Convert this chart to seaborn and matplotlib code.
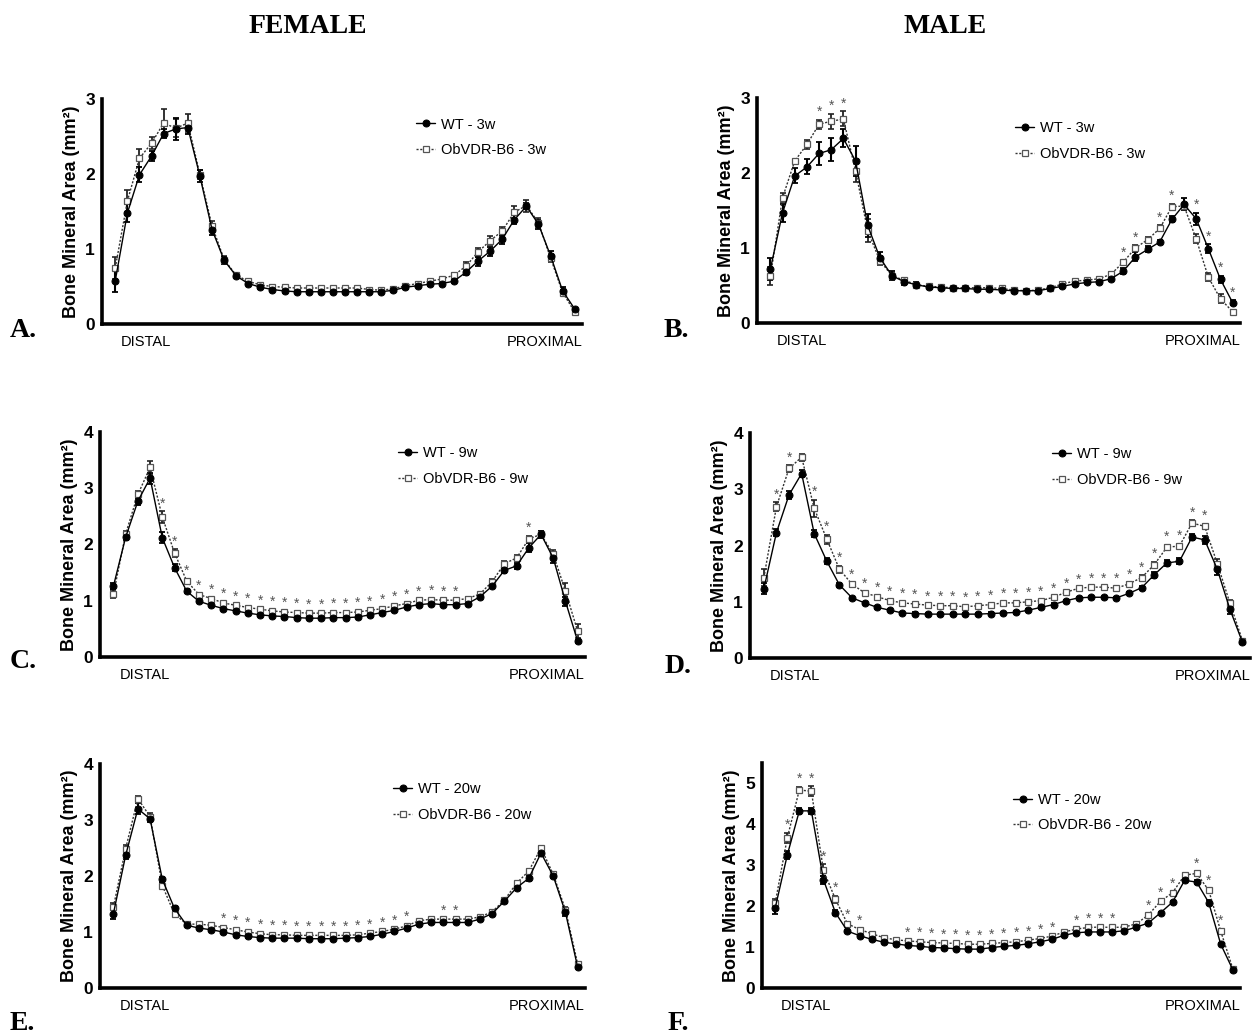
import numpy as np
import pandas as pd
import matplotlib
matplotlib.use("Agg")
import matplotlib.pyplot as plt
import seaborn as sns

# ---------------- data ----------------
# Panel A: female 3w
A_wt = [0.58, 1.48, 1.99, 2.24, 2.54, 2.60, 2.62, 1.97, 1.26, 0.85, 0.64, 0.54, 0.49, 0.46, 0.44, 0.43, 0.43, 0.43, 0.43, 0.43,
        0.43, 0.43, 0.43, 0.45, 0.49, 0.51, 0.53, 0.54, 0.57, 0.69, 0.84, 0.97, 1.13, 1.39, 1.57, 1.33, 0.91, 0.44, 0.20]
A_wt_err = [0.15, 0.12, 0.10, 0.06, 0.06, 0.15, 0.08, 0.08, 0.07, 0.05, 0.03, 0.02, 0.02, 0.02, 0.02, 0.02, 0.02, 0.02, 0.02, 0.02,
            0.02, 0.02, 0.02, 0.02, 0.02, 0.02, 0.02, 0.02, 0.02, 0.04, 0.06, 0.06, 0.06, 0.06, 0.04, 0.06, 0.07, 0.05, 0.02]
A_ob = [0.75, 1.64, 2.21, 2.41, 2.68, 2.61, 2.68, 1.99, 1.31, 0.86, 0.65, 0.57, 0.52, 0.50, 0.49, 0.48, 0.48, 0.48, 0.48, 0.48,
        0.48, 0.46, 0.45, 0.47, 0.51, 0.54, 0.57, 0.60, 0.65, 0.77, 0.96, 1.11, 1.24, 1.49, 1.58, 1.35, 0.88, 0.42, 0.16]
A_ob_err = [0.15, 0.15, 0.12, 0.08, 0.18, 0.12, 0.12, 0.06, 0.06, 0.05, 0.03, 0.02, 0.02, 0.02, 0.02, 0.02, 0.02, 0.02, 0.02, 0.02,
            0.02, 0.02, 0.02, 0.02, 0.02, 0.02, 0.02, 0.02, 0.03, 0.06, 0.06, 0.06, 0.06, 0.08, 0.08, 0.06, 0.05, 0.03, 0.02]
A_star = []

# Panel B: male 3w
B_wt = [0.72, 1.47, 1.96, 2.08, 2.26, 2.31, 2.46, 2.16, 1.30, 0.87, 0.63, 0.55, 0.51, 0.48, 0.47, 0.46, 0.46, 0.45, 0.45, 0.44,
        0.43, 0.43, 0.43, 0.46, 0.49, 0.52, 0.54, 0.55, 0.59, 0.69, 0.88, 0.98, 1.08, 1.38, 1.58, 1.39, 0.99, 0.58, 0.27]
B_wt_err = [0.15, 0.12, 0.10, 0.10, 0.15, 0.15, 0.12, 0.20, 0.15, 0.08, 0.06, 0.04, 0.03, 0.02, 0.02, 0.02, 0.02, 0.02, 0.02, 0.02,
            0.02, 0.02, 0.02, 0.02, 0.02, 0.02, 0.02, 0.02, 0.03, 0.04, 0.06, 0.04, 0.03, 0.04, 0.08, 0.08, 0.06, 0.05, 0.03]
B_ob = [0.62, 1.67, 2.16, 2.38, 2.65, 2.69, 2.72, 2.03, 1.23, 0.83, 0.63, 0.57, 0.51, 0.49, 0.48, 0.47, 0.47, 0.47, 0.47, 0.46,
        0.44, 0.43, 0.44, 0.47, 0.52, 0.56, 0.57, 0.59, 0.65, 0.81, 1.00, 1.11, 1.26, 1.55, 1.56, 1.12, 0.61, 0.32, 0.15]
B_ob_err = [0.12, 0.06, 0.03, 0.06, 0.06, 0.10, 0.10, 0.15, 0.15, 0.06, 0.04, 0.03, 0.02, 0.02, 0.02, 0.02, 0.02, 0.02, 0.02, 0.02,
            0.02, 0.02, 0.02, 0.02, 0.02, 0.02, 0.02, 0.02, 0.03, 0.03, 0.04, 0.04, 0.04, 0.04, 0.03, 0.06, 0.05, 0.06, 0.01]
B_star = [4, 5, 6, 29, 30, 32, 33, 35, 36, 37, 38]

# Panel C: female 9w
C_wt = [1.26, 2.13, 2.77, 3.18, 2.12, 1.59, 1.17, 0.99, 0.92, 0.86, 0.82, 0.78, 0.75, 0.73, 0.72, 0.70, 0.69, 0.69, 0.70, 0.70,
        0.71, 0.75, 0.79, 0.83, 0.89, 0.93, 0.95, 0.93, 0.93, 0.95, 1.07, 1.26, 1.54, 1.62, 1.94, 2.18, 1.76, 0.99, 0.28]
C_wt_err = [0.05, 0.05, 0.06, 0.10, 0.10, 0.06, 0.04, 0.02, 0.02, 0.02, 0.02, 0.02, 0.02, 0.02, 0.02, 0.02, 0.02, 0.02, 0.02, 0.02,
            0.02, 0.02, 0.02, 0.02, 0.02, 0.02, 0.02, 0.02, 0.02, 0.02, 0.02, 0.04, 0.05, 0.06, 0.08, 0.06, 0.08, 0.08, 0.03]
C_ob = [1.12, 2.19, 2.89, 3.37, 2.49, 1.85, 1.35, 1.11, 1.04, 0.96, 0.92, 0.88, 0.85, 0.82, 0.80, 0.79, 0.78, 0.78, 0.79, 0.79,
        0.80, 0.83, 0.86, 0.91, 0.95, 1.01, 1.02, 1.01, 1.01, 1.04, 1.12, 1.34, 1.66, 1.76, 2.10, 2.18, 1.83, 1.17, 0.46]
C_ob_err = [0.07, 0.05, 0.06, 0.12, 0.10, 0.07, 0.04, 0.02, 0.02, 0.02, 0.02, 0.02, 0.02, 0.02, 0.02, 0.02, 0.02, 0.02, 0.02, 0.02,
            0.02, 0.02, 0.02, 0.02, 0.02, 0.02, 0.02, 0.02, 0.02, 0.02, 0.02, 0.04, 0.05, 0.05, 0.06, 0.06, 0.07, 0.15, 0.13]
C_star = list(range(4, 29)) + [34]

# Panel D: male 9w
D_wt = [1.23, 2.23, 2.90, 3.28, 2.21, 1.72, 1.30, 1.07, 0.98, 0.90, 0.85, 0.80, 0.79, 0.78, 0.78, 0.78, 0.78, 0.78, 0.79, 0.80,
        0.81, 0.85, 0.90, 0.95, 1.02, 1.07, 1.08, 1.08, 1.07, 1.15, 1.25, 1.48, 1.69, 1.72, 2.15, 2.10, 1.58, 0.87, 0.28]
D_wt_err = [0.10, 0.06, 0.07, 0.07, 0.06, 0.05, 0.04, 0.02, 0.02, 0.02, 0.02, 0.02, 0.02, 0.02, 0.02, 0.02, 0.02, 0.02, 0.02, 0.02,
            0.02, 0.02, 0.02, 0.02, 0.02, 0.02, 0.02, 0.02, 0.02, 0.02, 0.03, 0.05, 0.05, 0.05, 0.05, 0.07, 0.10, 0.08, 0.02]
D_ob = [1.43, 2.69, 3.37, 3.57, 2.66, 2.11, 1.58, 1.31, 1.16, 1.09, 1.02, 0.98, 0.96, 0.94, 0.93, 0.93, 0.91, 0.93, 0.95, 0.98,
        0.98, 1.00, 1.02, 1.08, 1.17, 1.24, 1.26, 1.26, 1.24, 1.32, 1.43, 1.66, 1.97, 1.99, 2.40, 2.34, 1.68, 0.98, 0.31]
D_ob_err = [0.15, 0.08, 0.06, 0.06, 0.15, 0.08, 0.06, 0.04, 0.03, 0.02, 0.02, 0.02, 0.02, 0.02, 0.02, 0.02, 0.02, 0.02, 0.02, 0.02,
            0.02, 0.02, 0.02, 0.02, 0.02, 0.02, 0.02, 0.02, 0.03, 0.03, 0.04, 0.05, 0.04, 0.04, 0.05, 0.05, 0.08, 0.06, 0.02]
D_star = [1, 2] + list(range(4, 36))

# Panel E: female 20w
E_wt = [1.33, 2.37, 3.20, 3.02, 1.94, 1.42, 1.12, 1.07, 1.04, 1.00, 0.95, 0.92, 0.90, 0.89, 0.89, 0.89, 0.88, 0.88, 0.88, 0.89,
        0.90, 0.92, 0.96, 1.01, 1.07, 1.14, 1.17, 1.17, 1.17, 1.17, 1.23, 1.33, 1.55, 1.79, 1.96, 2.41, 2.00, 1.35, 0.37]
E_wt_err = [0.10, 0.07, 0.10, 0.06, 0.05, 0.04, 0.02, 0.02, 0.02, 0.02, 0.02, 0.02, 0.02, 0.02, 0.02, 0.02, 0.02, 0.02, 0.02, 0.02,
            0.02, 0.02, 0.02, 0.02, 0.02, 0.02, 0.02, 0.02, 0.02, 0.02, 0.02, 0.03, 0.04, 0.04, 0.05, 0.05, 0.04, 0.06, 0.03]
E_ob = [1.45, 2.49, 3.38, 3.06, 1.83, 1.32, 1.14, 1.14, 1.12, 1.08, 1.04, 1.00, 0.97, 0.95, 0.95, 0.94, 0.94, 0.94, 0.94, 0.94,
        0.95, 0.98, 1.01, 1.05, 1.11, 1.20, 1.23, 1.23, 1.23, 1.23, 1.27, 1.36, 1.57, 1.87, 2.09, 2.50, 2.03, 1.40, 0.43]
E_ob_err = [0.06, 0.06, 0.05, 0.06, 0.04, 0.03, 0.02, 0.02, 0.02, 0.02, 0.02, 0.02, 0.02, 0.02, 0.02, 0.02, 0.02, 0.02, 0.02, 0.02,
            0.02, 0.02, 0.02, 0.02, 0.02, 0.02, 0.02, 0.02, 0.02, 0.02, 0.02, 0.03, 0.03, 0.03, 0.04, 0.04, 0.04, 0.05, 0.03]
E_star = list(range(9, 25)) + [27, 28]

# Panel F: male 20w
F_wt = [1.96, 3.25, 4.33, 4.33, 2.65, 1.84, 1.39, 1.28, 1.19, 1.12, 1.08, 1.04, 1.02, 0.99, 0.98, 0.96, 0.95, 0.95, 0.99, 1.02,
        1.04, 1.08, 1.13, 1.19, 1.29, 1.35, 1.37, 1.37, 1.37, 1.40, 1.49, 1.59, 1.84, 2.10, 2.63, 2.59, 2.09, 1.07, 0.45]
F_wt_err = [0.15, 0.10, 0.08, 0.08, 0.10, 0.06, 0.03, 0.02, 0.02, 0.02, 0.02, 0.02, 0.02, 0.02, 0.02, 0.02, 0.02, 0.02, 0.02, 0.02,
            0.02, 0.02, 0.02, 0.02, 0.02, 0.02, 0.02, 0.02, 0.02, 0.02, 0.02, 0.02, 0.03, 0.03, 0.04, 0.04, 0.05, 0.03, 0.03]
F_ob = [2.08, 3.67, 4.84, 4.81, 2.88, 2.17, 1.57, 1.43, 1.33, 1.23, 1.18, 1.15, 1.13, 1.11, 1.10, 1.09, 1.07, 1.07, 1.09, 1.11,
        1.13, 1.17, 1.21, 1.27, 1.37, 1.44, 1.48, 1.49, 1.48, 1.49, 1.57, 1.79, 2.12, 2.33, 2.76, 2.80, 2.39, 1.39, 0.47]
F_ob_err = [0.10, 0.12, 0.08, 0.12, 0.15, 0.08, 0.04, 0.03, 0.02, 0.02, 0.02, 0.02, 0.02, 0.02, 0.02, 0.02, 0.02, 0.02, 0.02, 0.02,
            0.02, 0.02, 0.02, 0.02, 0.02, 0.02, 0.02, 0.02, 0.02, 0.02, 0.02, 0.03, 0.03, 0.03, 0.04, 0.05, 0.05, 0.06, 0.03]
F_star = list(range(1, 8)) + list(range(11, 24)) + list(range(25, 29)) + [31, 32, 33, 35, 36, 37]

ages = ["3w", "3w", "9w", "9w", "20w", "20w"]
letters = ["A.", "B.", "C.", "D.", "E.", "F."]
ymax = [3, 3, 4, 4, 4, 5.5]
yticks = [[0, 1, 2, 3], [0, 1, 2, 3], [0, 1, 2, 3, 4], [0, 1, 2, 3, 4], [0, 1, 2, 3, 4], [0, 1, 2, 3, 4, 5]]

panels = [
    (A_wt, A_wt_err, A_ob, A_ob_err, A_star),
    (B_wt, B_wt_err, B_ob, B_ob_err, B_star),
    (C_wt, C_wt_err, C_ob, C_ob_err, C_star),
    (D_wt, D_wt_err, D_ob, D_ob_err, D_star),
    (E_wt, E_wt_err, E_ob, E_ob_err, E_star),
    (F_wt, F_wt_err, F_ob, F_ob_err, F_star),
]

# ---------------- layout ----------------
sns.set_style("white")
plt.rcParams["font.family"] = ["Liberation Sans", "DejaVu Sans"]
plt.rcParams["text.color"] = "black"
plt.rcParams["axes.labelcolor"] = "black"
plt.rcParams["ytick.color"] = "black"
plt.rcParams["xtick.color"] = "black"

W, H = 1255, 1034
fig = plt.figure(figsize=(W / 100, H / 100), dpi=100)
fig.patch.set_facecolor("white")

def px_axes(x0, x1, ytop, ybot):
    return [x0 / W, 1 - ybot / H, (x1 - x0) / W, (ybot - ytop) / H]

axes_px = [
    (102, 582, 99, 324),
    (757, 1240, 98, 323),
    (100, 585, 432, 657),
    (750, 1250, 433, 658),
    (100, 585, 764, 988),
    (762, 1240, 763, 988),
]
legend_anchor = [
    (0.64, 0.95),
    (0.52, 0.93),
    (0.60, 0.97),
    (0.59, 0.97),
    (0.59, 0.95),
    (0.51, 0.90),
]
letter_pos = [(10, 337), (664, 337), (10, 668), (665, 673), (10, 1030), (668, 1030)]

for k, (wt, wt_err, ob, ob_err, stars) in enumerate(panels):
    ax = fig.add_axes(px_axes(*axes_px[k]))
    n = len(wt)
    idx = np.arange(n)
    df = pd.DataFrame({"pos": idx, "WT": wt, "OB": ob})

    ax.errorbar(idx, ob, yerr=ob_err, fmt="none", ecolor="#222222", elinewidth=1.3, capsize=2.2, capthick=1.2, zorder=2)
    ax.errorbar(idx, wt, yerr=wt_err, fmt="none", ecolor="black", elinewidth=1.5, capsize=2.2, capthick=1.3, zorder=2)

    sns.lineplot(data=df, x="pos", y="OB", ax=ax, color="#333333", linewidth=1.0,
                 linestyle=(0, (1.5, 1.2)), marker="s", markersize=5.0, markerfacecolor="white",
                 markeredgecolor="#555555", markeredgewidth=0.9, label=f"ObVDR-B6 - {ages[k]}", zorder=3)
    sns.lineplot(data=df, x="pos", y="WT", ax=ax, color="black", linewidth=1.0,
                 marker="o", markersize=5.0, markerfacecolor="black", markeredgecolor="black",
                 label=f"WT - {ages[k]}", zorder=4)

    # significance asterisks
    for i in stars:
        top = max(wt[i] + wt_err[i], ob[i] + ob_err[i])
        ax.annotate("*", xy=(i, top), xytext=(0, 0.5), textcoords="offset points",
                    ha="center", va="bottom", fontsize=10, color="#555555")

    ax.set_xlim(-1.1, n - 0.4)
    ax.set_ylim(0, ymax[k])
    ax.set_yticks(yticks[k])
    ax.set_yticklabels([str(t) for t in yticks[k]], fontsize=12.5, fontweight="bold")
    ax.set_xticks([])
    ax.set_xlabel("")
    ax.set_ylabel("Bone Mineral Area (mm²)", fontsize=13, fontweight="bold", labelpad=4)
    for s in ["top", "right"]:
        ax.spines[s].set_visible(False)
    for s in ["left", "bottom"]:
        ax.spines[s].set_linewidth(2.6)
        ax.spines[s].set_color("black")
    ax.tick_params(axis="y", length=3, width=1.5, pad=2)
    ax.set_facecolor("white")

    ax.text(0.04, -0.05, "DISTAL", transform=ax.transAxes, ha="left", va="top", fontsize=10.5)
    ax.text(1.0, -0.05, "PROXIMAL", transform=ax.transAxes, ha="right", va="top", fontsize=10.5)

    h, l = ax.get_legend_handles_labels()
    ax.legend(h[::-1], l[::-1], loc="upper left", bbox_to_anchor=legend_anchor[k], frameon=False,
              fontsize=10.5, handlelength=1.3, handletextpad=0.4, labelspacing=0.8, borderpad=0)

    lx, ly = letter_pos[k]
    fig.text(lx / W, 1 - ly / H, letters[k], fontsize=20, fontweight="bold",
             family=["Liberation Serif", "DejaVu Serif"], ha="left", va="baseline")

fig.text(308 / W, 1 - 33 / H, "FEMALE", fontsize=20, fontweight="bold",
         family=["Liberation Serif", "DejaVu Serif"], ha="center", va="baseline")
fig.text(945 / W, 1 - 33 / H, "MALE", fontsize=20, fontweight="bold",
         family=["Liberation Serif", "DejaVu Serif"], ha="center", va="baseline")

fig.savefig("out.png", dpi=100, facecolor="white")
